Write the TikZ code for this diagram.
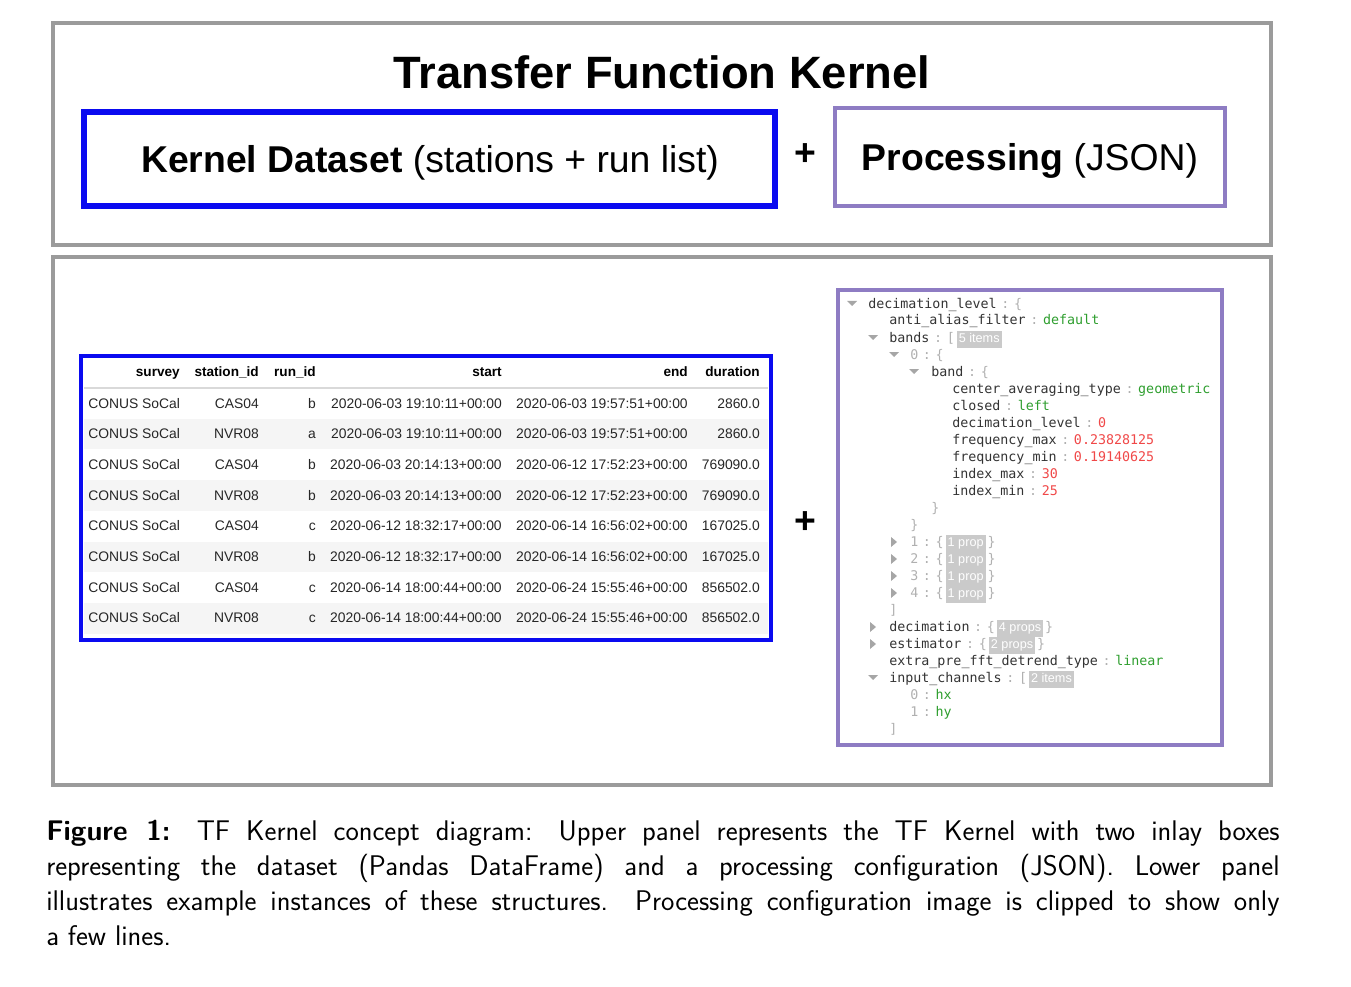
\documentclass[tikz,border=0pt]{standalone}
\usepackage{fontspec}
\newfontfamily\hv{Liberation Sans}
\newfontfamily\mono{DejaVu Sans Mono}
\definecolor{pgray}{HTML}{9B9B9B}
\definecolor{kblue}{HTML}{0A0AF0}
\definecolor{ppurp}{HTML}{8E7CC3}
\definecolor{jkey}{HTML}{333333}
\definecolor{jpun}{HTML}{B0B0B0}
\definecolor{jstr}{HTML}{2E9E2E}
\definecolor{jnum}{HTML}{F04848}
\definecolor{badge}{HTML}{CACACA}
\definecolor{rowsh}{HTML}{F5F5F5}
\newcommand\jp[1]{\textcolor{jpun}{#1}}
\newcommand\js[1]{\textcolor{jstr}{#1}}
\newcommand\jn[1]{\textcolor{jnum}{#1}}
\newcommand\jc{\hspace{0.35em}\jp{:}\hspace{0.35em}}
\newcommand\jb[1]{\hspace{0.15em}{\setlength\fboxsep{1.5pt}\colorbox{badge}{\textcolor{white}{\hv\fontsize{9.5}{9.5}\selectfont\strut #1}}}\hspace{0.15em}}
\tikzset{
 panel/.style={draw=pgray,line width=3pt},
 jline/.style={anchor=base west,inner sep=0pt,font=\mono\fontsize{10}{10}\selectfont,text=jkey},
 tcell/.style={anchor=base east,inner sep=0pt,font=\hv\fontsize{10.4}{10}\selectfont,text=black!85},
 thead/.style={anchor=base east,inner sep=0pt,font=\hv\bfseries\fontsize{10.2}{10}\selectfont},
}
\newcommand\tdn[2]{\fill[gray!70] (#1-5,#2-7) -- (#1+5,#2-7) -- (#1,#2-2) -- cycle;}
\newcommand\trt[2]{\fill[gray!70] (#1-3,#2-9) -- (#1+3,#2-4) -- (#1-3,#2+1) -- cycle;}
\begin{document}
\begin{tikzpicture}[x=0.75pt,y=-0.75pt]
\useasboundingbox (0,0) rectangle (1351,987);
% upper panel
\draw[panel] (53,23) rectangle (1271,245);
\node (title) at (662,72) {\hv\bfseries\fontsize{34}{40}\selectfont Transfer Function Kernel};
\draw[draw=kblue,line width=4pt] (84,112) rectangle (775,206);
\node (kd) at (430,163) {\hv\fontsize{28}{32}\selectfont\textbf{Kernel Dataset} (stations + run list)};
\node (plus1) at (805,155) {\hv\bfseries\fontsize{28}{30}\selectfont +};
\draw[draw=ppurp,line width=3pt] (835,108) rectangle (1225,206);
\node (proc) at (1030,161) {\hv\fontsize{28}{32}\selectfont\textbf{Processing} (JSON)};
% lower panel
\draw[panel] (53,257) rectangle (1271,785);
\node (plus2) at (805,523) {\hv\bfseries\fontsize{28}{30}\selectfont +};
% table
\foreach \r in {1,3,5,7} {\fill[rowsh] (84,388+\r*30.7) rectangle (768,388+\r*30.7+30.7);}
\draw[gray!30,line width=1pt] (84,388) -- (768,388);
\draw[draw=kblue,line width=3.5pt] (81,356) rectangle (771,640);
\node[thead] (h1) at (180,376) {survey};
\node[thead] (h2) at (259,376) {station\_id};
\node[thead] (h3) at (316,376) {run\_id};
\node[thead] (h4) at (502,376) {start};
\node[thead] (h5) at (688,376) {end};
\node[thead] (h6) at (760,376) {duration};
\foreach \i/\st/\ru/\sa/\en/\du in {
 0/CAS04/b/2020-06-03 19:10:11+00:00/2020-06-03 19:57:51+00:00/2860.0,
 1/NVR08/a/2020-06-03 19:10:11+00:00/2020-06-03 19:57:51+00:00/2860.0,
 2/CAS04/b/2020-06-03 20:14:13+00:00/2020-06-12 17:52:23+00:00/769090.0,
 3/NVR08/b/2020-06-03 20:14:13+00:00/2020-06-12 17:52:23+00:00/769090.0,
 4/CAS04/c/2020-06-12 18:32:17+00:00/2020-06-14 16:56:02+00:00/167025.0,
 5/NVR08/b/2020-06-12 18:32:17+00:00/2020-06-14 16:56:02+00:00/167025.0,
 6/CAS04/c/2020-06-14 18:00:44+00:00/2020-06-24 15:55:46+00:00/856502.0,
 7/NVR08/c/2020-06-14 18:00:44+00:00/2020-06-24 15:55:46+00:00/856502.0} {
 \pgfmathsetmacro\yy{408+\i*30.7}
 \node[tcell,anchor=base west] (s\i) at (88,\yy) {CONUS SoCal};
 \node[tcell] (st\i) at (259,\yy) {\st};
 \node[tcell] (ru\i) at (316,\yy) {\ru};
 \node[tcell] (sa\i) at (502,\yy) {\sa};
 \node[tcell] (en\i) at (688,\yy) {\en};
 \node[tcell] (du\i) at (760,\yy) {\du};
}
% JSON
\draw[draw=ppurp,line width=3pt] (838,290) rectangle (1222,745);
\tdn{852}{308}\node[jline] (j1) at (868,308) {decimation\_level\jc\jp{\{}};
\node[jline] (j2) at (889,325) {anti\_alias\_filter\jc\js{default}};
\tdn{873}{342}\node[jline] (j3) at (889,342) {bands\jc\jp{[}\jb{5 items}};
\tdn{894}{359}\node[jline] (j4) at (910,359) {\jp{0}\jc\jp{\{}};
\tdn{914}{376}\node[jline] (j5) at (931,376) {band\jc\jp{\{}};
\node[jline] (j6) at (952,393) {center\_averaging\_type\jc\js{geometric}};
\node[jline] (j7) at (952,410) {closed\jc\js{left}};
\node[jline] (j8) at (952,427) {decimation\_level\jc\jn{0}};
\node[jline] (j9) at (952,444) {frequency\_max\jc\jn{0.23828125}};
\node[jline] (j10) at (952,461) {frequency\_min\jc\jn{0.19140625}};
\node[jline] (j11) at (952,478) {index\_max\jc\jn{30}};
\node[jline] (j12) at (952,495) {index\_min\jc\jn{25}};
\node[jline] (j13) at (931,512) {\jp{\}}};
\node[jline] (j14) at (910,529) {\jp{\}}};
\foreach \k in {1,2,3,4} {
 \pgfmathsetmacro\yy{529+\k*17}
 \trt{894}{\yy}\node[jline] (jb\k) at (910,\yy) {\jp{\k}\jc\jp{\{}\jb{1 prop}\jp{\}}};
}
\node[jline] (j15) at (889,614) {\jp{]}};
\trt{873}{631}\node[jline] (j16) at (889,631) {decimation\jc\jp{\{}\jb{4 props}\jp{\}}};
\trt{873}{648}\node[jline] (j17) at (889,648) {estimator\jc\jp{\{}\jb{2 props}\jp{\}}};
\node[jline] (j18) at (889,665) {extra\_pre\_fft\_detrend\_type\jc\js{linear}};
\tdn{873}{682}\node[jline] (j19) at (889,682) {input\_channels\jc\jp{[}\jb{2 items}};
\node[jline] (j20) at (910,699) {\jp{0}\jc\js{hx}};
\node[jline] (j21) at (910,716) {\jp{1}\jc\js{hy}};
\node[jline] (j22) at (889,733) {\jp{]}};
% caption
\node[anchor=north west,inner sep=0pt,text width=925pt,align=justify,font=\sffamily\fontsize{21.3}{26.3}\selectfont] (cap) at (46,820)
 {\textbf{Figure 1:} TF Kernel concept diagram: Upper panel represents the TF Kernel with two inlay boxes\linebreak representing the dataset (Pandas DataFrame) and a processing configuration (JSON). Lower panel\linebreak illustrates example instances of these structures. Processing configuration image is clipped to show only\linebreak a few lines.};
\end{tikzpicture}
\end{document}
